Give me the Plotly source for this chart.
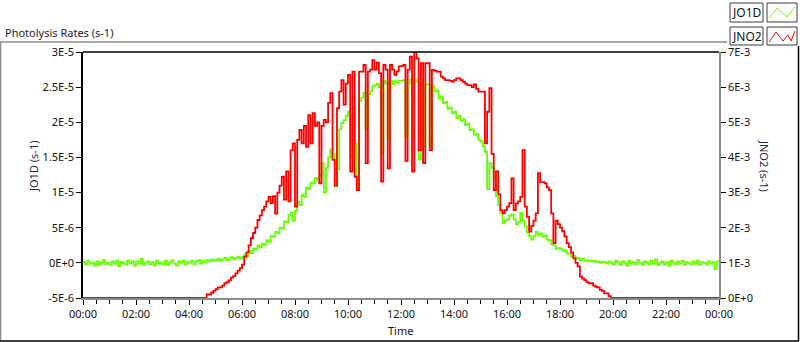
import plotly.graph_objects as go
import pandas as pd

# ---------------- data (5-minute samples, 00:00 .. 24:00) ----------------
times = pd.date_range("2024-01-01 00:00", "2024-01-02 00:00", freq="5min")

# JO1D in units of 1e-6 s-1 (left axis)
jo1d_e6 = [
    0.1, -0.2, 0.3, -0.1, 0.0, -0.4, 0.2, -0.3, 0.1, 0.4, -0.2, 0.0,          # 00h
    -0.3, 0.2, -0.1, 0.3, -0.5, 0.1, 0.0, -0.2, 0.3, -0.1, 0.2, -0.4,         # 01h
    0.2, -0.1, 0.6, -0.3, 0.0, 0.2, -0.2, 0.1, -0.4, 0.3, -0.1, 0.0,          # 02h
    -0.2, 0.3, -0.3, 0.1, 0.4, -0.1, -0.4, 0.2, 0.0, 0.3, -0.2, 0.1,          # 03h
    0.0, 0.3, -0.2, 0.2, 0.4, -0.1, 0.3, 0.1, 0.4, 0.2, 0.5, 0.3,             # 04h
    0.4, 0.6, 0.3, 0.5, 0.7, 0.4, 0.6, 0.8, 0.5, 0.7, 0.9, 0.6,               # 05h
    0.8, 1.2, 0.9, 1.7, 1.4, 2.0, 1.9, 2.5, 2.2, 2.7, 2.6, 3.2,               # 06h
    3.0, 3.8, 3.7, 4.4, 4.2, 5.0, 4.9, 5.9, 5.8, 6.8, 7.1, 6.0,               # 07h
    7.4, 8.7, 8.2, 9.7, 9.4, 10.7, 10.5, 11.4, 11.3, 12.1, 11.7, 12.4,        # 08h
    14.2, 10.0, 13.5, 15.0, 16.1, 15.5, 10.9, 13.3, 19.0, 19.9, 20.3, 20.9,   # 09h
    21.5, 15.2, 22.0, 17.0, 10.5, 23.0, 23.5, 24.2, 19.0, 24.0, 24.4, 25.1,   # 10h
    25.3, 25.5, 25.0, 15.7, 25.9, 25.5, 17.6, 25.9, 25.4, 25.8, 25.6, 25.9,   # 11h
    25.9, 26.0, 18.0, 25.5, 26.1, 16.1, 26.1, 25.8, 14.7, 25.6, 16.5, 25.4,   # 12h
    25.4, 16.6, 25.1, 24.4, 24.5, 23.4, 23.7, 22.7, 22.9, 21.9, 22.1, 21.3,   # 13h
    21.5, 20.6, 20.9, 20.2, 20.4, 19.6, 19.8, 18.9, 19.0, 18.2, 18.3, 17.5,   # 14h
    17.3, 16.6, 15.8, 10.5, 14.2, 13.5, 11.9, 9.5, 8.2, 7.1, 5.7, 6.0,        # 15h
    6.2, 6.7, 6.9, 6.2, 5.5, 5.8, 7.1, 6.0, 5.2, 4.3, 3.8, 3.3,               # 16h
    3.8, 4.4, 4.0, 4.2, 3.7, 3.9, 3.3, 3.2, 2.6, 2.5, 2.0, 2.1,               # 17h
    2.0, 1.7, 1.8, 1.3, 1.3, 0.9, 1.0, 0.6, 0.7, 0.4, 0.6, 0.3,               # 18h
    0.3, 0.35, 0.2, 0.3, 0.1, 0.2, 0.0, 0.15, 0.1, -0.1, 0.2, 0.0,            # 19h
    -0.2, 0.3, 0.1, -0.3, 0.2, 0.0, -0.4, 0.3, -0.1, 0.1, -0.2, 0.4,          # 20h
    0.0, -0.3, 0.2, 0.1, -0.2, 0.3, -0.1, 0.5, -0.3, 0.0, 0.2, -0.2,          # 21h
    0.1, -0.4, 0.3, 0.0, -0.2, 0.2, -0.1, 0.3, -0.3, 0.1, 0.0, -0.2,          # 22h
    0.2, -0.1, 0.3, -0.3, 0.1, 0.0, -0.2, 0.2, -0.1, 0.1, -0.9, 0.2,          # 23h
    0.1,                                                                      # 24h
]

# JNO2 in units of 1e-3 s-1 (right axis)
jno2_e3 = [
    0, 0, 0, 0, 0, 0, 0, 0, 0, 0, 0, 0,                                       # 00h
    0, 0, 0, 0, 0, 0, 0, 0, 0, 0, 0, 0,                                       # 01h
    0, 0, 0, 0, 0, 0, 0, 0, 0, 0, 0, 0,                                       # 02h
    0, 0, 0, 0, 0, 0, 0, 0, 0, 0, 0, 0,                                       # 03h
    0, 0, 0, 0, 0, 0, 0, 0, 0.1, 0.1, 0.15, 0.2,                              # 04h
    0.25, 0.3, 0.3, 0.35, 0.42, 0.45, 0.5, 0.58, 0.62, 0.7, 0.78, 0.85,       # 05h
    0.95, 1.18, 1.3, 1.5, 1.7, 1.85, 2.0, 2.22, 2.35, 2.5, 2.6, 2.75,         # 06h
    2.88, 2.7, 2.9, 2.4, 3.0, 3.2, 3.45, 2.8, 3.6, 2.75, 4.2, 4.4,            # 07h
    2.6, 4.5, 4.78, 4.4, 4.9, 4.3, 5.2, 4.4, 5.26, 4.9, 5.0, 3.26,            # 08h
    4.9, 5.07, 5.0, 5.55, 5.83, 3.93, 3.2, 5.4, 5.87, 6.2, 5.5, 6.1,          # 09h
    6.35, 3.6, 6.44, 3.45, 3.07, 6.44, 6.44, 6.63, 3.84, 6.44, 6.5, 6.77,     # 10h
    6.5, 6.7, 6.4, 3.31, 6.63, 6.5, 3.69, 6.63, 6.5, 6.35, 6.45, 6.59,        # 11h
    6.6, 6.63, 3.9, 6.5, 6.87, 3.6, 7.0, 6.82, 4.2, 6.68, 3.84, 6.68,         # 12h
    6.68, 4.21, 6.49, 6.47, 6.44, 6.44, 6.3, 6.25, 6.2, 6.2, 6.18, 6.16,      # 13h
    6.2, 6.25, 6.25, 6.2, 6.15, 6.1, 6.06, 6.06, 6.0, 6.08, 5.95, 5.87,       # 14h
    5.87, 5.87, 4.4, 5.3, 5.97, 4.1, 3.07, 3.6, 2.95, 2.5, 2.41, 2.5,         # 15h
    2.6, 2.7, 3.4, 2.5, 2.69, 2.75, 2.88, 4.21, 2.6, 2.31, 1.89, 2.05,        # 16h
    2.2, 2.41, 3.55, 3.3, 3.3, 3.26, 3.15, 3.07, 2.41, 1.56, 2.2, 2.1,        # 17h
    2.0, 1.9, 1.75, 1.56, 1.45, 1.3, 1.13, 1.0, 0.9, 0.61, 0.55, 0.51,        # 18h
    0.45, 0.42, 0.42, 0.35, 0.32, 0.3, 0.23, 0.2, 0.13, 0.13, 0.05, 0,        # 19h
    0, 0, 0, 0, 0, 0, 0, 0, 0, 0, 0, 0,                                       # 20h
    0, 0, 0, 0, 0, 0, 0, 0, 0, 0, 0, 0,                                       # 21h
    0, 0, 0, 0, 0, 0, 0, 0, 0, 0, 0, 0,                                       # 22h
    0, 0, 0, 0, 0, 0, 0, 0, 0, 0, 0, 0,                                       # 23h
    0,                                                                        # 24h
]

left_tickvals = [-5, 0, 5, 10, 15, 20, 25, 30]
left_ticktext = ["-5E-6", "0E+0", "5E-6", "1E-5", "1.5E-5", "2E-5", "2.5E-5", "3E-5"]
right_tickvals = [0, 1, 2, 3, 4, 5, 6, 7]
right_ticktext = ["0E+0", "1E-3", "2E-3", "3E-3", "4E-3", "5E-3", "6E-3", "7E-3"]

# ---------------- layout geometry ----------------
W, H = 800, 342
L, R, T, B = 83, 81, 52, 44
PW, PH = W - L - R, H - T - B

def fx(px):
    return (px - L) / PW

def fy(py):
    return (H - B - py) / PH

FONT = "Segoe UI, Noto Sans, Open Sans, sans-serif"
FS = 11
GREEN = "#66FF00"
RED = "#FF0000"

fig = go.Figure()
fig.add_trace(go.Scatter(x=times, y=jno2_e3, yaxis="y2", mode="lines",
                         line=dict(color=RED, width=1.8, shape="hv"), name="JNO2"))
fig.add_trace(go.Scatter(x=times, y=jo1d_e6, yaxis="y", mode="lines",
                         line=dict(color=GREEN, width=1.8, shape="hv"), name="JO1D"))

shapes = []
shapes.append(dict(type="line", xref="paper", yref="paper", x0=0, x1=1, y0=1, y1=1,
                   line=dict(color="black", width=1.5)))
shapes.append(dict(type="line", xref="paper", yref="paper", x0=fx(0), x1=fx(727), y0=fy(42), y1=fy(42),
                   line=dict(color="#8a8a8a", width=1.5)))
shapes.append(dict(type="line", xref="paper", yref="paper", x0=fx(0.5), x1=fx(0.5), y0=fy(42), y1=fy(341),
                   line=dict(color="#8a8a8a", width=1.5)))
shapes.append(dict(type="line", xref="paper", yref="paper", x0=fx(0), x1=fx(799), y0=fy(341), y1=fy(341),
                   line=dict(color="black", width=1.5)))
shapes.append(dict(type="line", xref="paper", yref="paper", x0=fx(798.5), x1=fx(798.5), y0=fy(46), y1=fy(341),
                   line=dict(color="black", width=1.5)))
for (y0, y1) in [(3, 22), (27, 45)]:
    shapes.append(dict(type="rect", xref="paper", yref="paper", x0=fx(730), x1=fx(763), y0=fy(y1), y1=fy(y0),
                       line=dict(color="#3a3a3a", width=1), fillcolor="white"))
    shapes.append(dict(type="rect", xref="paper", yref="paper", x0=fx(767), x1=fx(797), y0=fy(y1), y1=fy(y0),
                       line=dict(color="#3a3a3a", width=1), fillcolor="white"))

def zig(points, color):
    path = "M " + " L ".join(f"{fx(a)},{fy(b)}" for a, b in points)
    return dict(type="path", xref="paper", yref="paper", path=path, line=dict(color=color, width=1))

shapes.append(zig([(769, 18), (777, 8), (787, 17), (795, 7)], GREEN))
shapes.append(zig([(769, 42), (776, 32), (783, 41), (788, 35), (791, 41), (795, 31)], RED))

annotations = [
    dict(text="Photolysis Rates (s-1)", xref="paper", yref="paper", x=fx(3), y=fy(32),
         xanchor="left", yanchor="middle", showarrow=False, font=dict(family=FONT, size=FS, color="#1c1c2e")),
    dict(text="JO1D (s-1)", xref="paper", yref="paper", x=fx(33), y=fy(167), textangle=-90,
         xanchor="center", yanchor="middle", showarrow=False, font=dict(family=FONT, size=FS, color="#2a1f4a")),
    dict(text="JNO2 (s-1)", xref="paper", yref="paper", x=fx(765), y=fy(166), textangle=90,
         xanchor="center", yanchor="middle", showarrow=False, font=dict(family=FONT, size=FS, color="#1f1f4a")),
    dict(text="Time", xref="paper", yref="paper", x=fx(400.5), y=fy(330),
         xanchor="center", yanchor="middle", showarrow=False, font=dict(family=FONT, size=FS, color="#111111")),
    dict(text="JO1D", xref="paper", yref="paper", x=fx(746.5), y=fy(12.5),
         xanchor="center", yanchor="middle", showarrow=False, font=dict(family=FONT, size=12, color="#111111")),
    dict(text="JNO2", xref="paper", yref="paper", x=fx(746.5), y=fy(36),
         xanchor="center", yanchor="middle", showarrow=False, font=dict(family=FONT, size=12, color="#111111")),
]

tickfont = dict(family=FONT, size=FS, color="#111111")

fig.update_layout(
    width=W, height=H, autosize=False,
    margin=dict(l=L, r=R, t=T, b=B, pad=0),
    paper_bgcolor="white", plot_bgcolor="white",
    showlegend=False,
    font=dict(family=FONT, size=FS, color="#111111"),
    shapes=shapes, annotations=annotations,
    xaxis=dict(
        type="date",
        range=[times[0], times[-1]],
        dtick=2 * 3600 * 1000, tick0=times[0], tickformat="%H:%M",
        ticks="outside", ticklen=5, tickcolor="black", tickwidth=1,
        minor=dict(dtick=30 * 60 * 1000, ticks="outside", ticklen=4, tickcolor="black", showgrid=False),
        showline=True, linecolor="#8a8a8a", linewidth=1.5,
        showgrid=False, zeroline=False, automargin=False,
        tickfont=tickfont,
    ),
    yaxis=dict(
        range=[-5, 30], tickvals=left_tickvals, ticktext=left_ticktext,
        ticks="outside", ticklen=5, tickcolor="black",
        showline=True, linecolor="black", linewidth=1.5,
        showgrid=False, zeroline=False, automargin=False,
        tickfont=tickfont,
    ),
    yaxis2=dict(
        range=[0, 7], tickvals=right_tickvals, ticktext=right_ticktext,
        overlaying="y", side="right",
        ticks="outside", ticklen=5, tickcolor="black",
        showline=True, linecolor="#8a8a8a", linewidth=1.5,
        showgrid=False, zeroline=False, automargin=False,
        tickfont=tickfont,
    ),
)

fig.write_html("out.html", config={"displayModeBar": False},
               post_script="document.body.style.margin='0';document.body.style.overflow='hidden';")
